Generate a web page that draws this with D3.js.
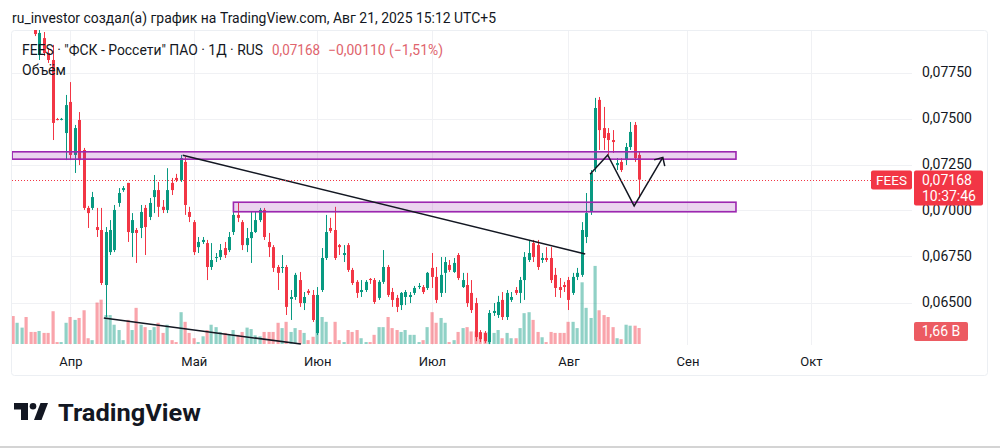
<!DOCTYPE html>
<html>
<head>
<meta charset="utf-8">
<script src="https://cdn.jsdelivr.net/npm/d3@7"></script>
<style>
  body { margin: 0; background: #fff; }
  svg { display: block; font-family: Roboto, "Noto Sans", sans-serif; }
</style>
</head>
<body>
<svg id="chart" width="1000" height="448"></svg>
<script>
// daily bars, FEES, late March .. 21 Aug 2025 (bar index = position)
const openVals = [0.0828,0.0822,0.0827,0.0832,0.0817,0.0807,0.07845,0.07937,0.07856,0.07818,
  0.07497,0.07495,0.07421,0.0759,0.07302,0.07492,0.07329,0.07014,0.07014,0.0691,
  0.06894,0.06595,0.06774,0.06785,0.07041,0.07111,0.0715,0.06878,0.06894,0.06905,
  0.07014,0.06965,0.07073,0.07111,0.0702,0.07003,0.0715,0.07177,0.07166,0.07264,
  0.06992,0.06937,0.06801,0.06829,0.06823,0.06693,0.06742,0.06747,0.06796,0.06785,
  0.06883,0.06976,0.06937,0.06812,0.0685,0.06883,0.06948,0.07003,0.06829,0.06801,
  0.06693,0.06688,0.06693,0.06519,0.0653,0.06622,0.06497,0.06563,0.06541,0.06334,
  0.06568,0.06742,0.06905,0.06894,0.06812,0.06758,0.06812,0.06677,0.06612,0.06557,
  0.06568,0.06628,0.06622,0.06525,0.06612,0.06693,0.06557,0.06525,0.06486,0.0653,
  0.0653,0.06552,0.06584,0.06584,0.06579,0.06688,0.06639,0.06552,0.06661,0.06704,
  0.06666,0.06758,0.06584,0.06595,0.06552,0.06497,0.06339,0.06334,0.06285,0.06443,
  0.06432,0.06514,0.06421,0.06514,0.06568,0.06552,0.06622,0.06731,0.06823,0.06812,
  0.06731,0.06742,0.06742,0.0665,0.06584,0.06595,0.06622,0.06552,0.06639,0.0665,
  0.06856,0.06992,0.0723,0.07601,0.07448,0.07421,0.07383,0.07247,0.07264,0.07274,
  0.07345,0.07465,0.07302];
const highVals = [0.0833,0.0830,0.0834,0.0834,0.0819,0.0809,0.0799,0.0797,0.07883,0.0790,
  0.07503,0.07503,0.07628,0.07698,0.07465,0.07535,0.0734,0.07025,0.07101,0.07014,
  0.07014,0.0691,0.06948,0.0703,0.07122,0.07133,0.0715,0.06986,0.06905,0.0703,
  0.0703,0.07068,0.07193,0.07155,0.07057,0.0723,0.07177,0.07199,0.07302,0.07291,
  0.0702,0.06948,0.06856,0.06856,0.0684,0.06823,0.06769,0.06818,0.06829,0.06883,
  0.07041,0.07041,0.06948,0.06905,0.06992,0.06992,0.07014,0.07014,0.06878,0.06812,
  0.06704,0.06758,0.06704,0.06568,0.06661,0.06666,0.06557,0.06573,0.06568,0.06584,
  0.06796,0.06976,0.0696,0.0702,0.06818,0.06812,0.06823,0.06688,0.06622,0.06622,
  0.06622,0.06633,0.06633,0.06622,0.06785,0.06704,0.06579,0.06541,0.06557,0.06568,
  0.06557,0.0659,0.06606,0.06595,0.06666,0.06769,0.06693,0.06747,0.06747,0.06731,
  0.06742,0.06769,0.06661,0.06661,0.06622,0.06525,0.0635,0.06345,0.06459,0.06497,
  0.06536,0.06557,0.06568,0.06557,0.06584,0.06639,0.06774,0.0684,0.0684,0.0684,
  0.06769,0.06801,0.06801,0.06688,0.06633,0.06612,0.06639,0.06661,0.06688,0.06937,
  0.07095,0.0722,0.07612,0.07617,0.07563,0.07448,0.07437,0.07285,0.07285,0.07367,
  0.07481,0.07481,0.07318];
const lowVals = [0.0820,0.0819,0.0824,0.0815,0.0805,0.07948,0.07818,0.0784,0.07802,0.07383,
  0.0749,0.0749,0.07274,0.07274,0.07204,0.07247,0.07003,0.06905,0.07003,0.06856,
  0.06595,0.06421,0.06758,0.06774,0.0702,0.07101,0.06829,0.06747,0.06715,0.0685,
  0.06758,0.06948,0.06986,0.06965,0.06986,0.06986,0.07084,0.07155,0.07155,0.06976,
  0.06937,0.06758,0.06769,0.06818,0.06622,0.06677,0.0672,0.06731,0.06742,0.06774,
  0.06867,0.06937,0.06785,0.06774,0.06715,0.06878,0.06937,0.0684,0.06747,0.06666,
  0.06568,0.06661,0.06432,0.06405,0.06514,0.06476,0.06459,0.06541,0.06394,0.06323,
  0.06557,0.06731,0.06878,0.06731,0.06758,0.0672,0.06666,0.06595,0.06525,0.0653,
  0.06557,0.06601,0.06492,0.06514,0.06601,0.0653,0.06476,0.06448,0.06459,0.06486,
  0.06497,0.06541,0.06573,0.06546,0.06568,0.06579,0.06497,0.0653,0.06552,0.06666,
  0.06661,0.06622,0.06579,0.06476,0.06443,0.0629,0.06285,0.0628,0.06274,0.06427,
  0.06416,0.06405,0.06405,0.06503,0.06541,0.06497,0.06514,0.0672,0.0672,0.06677,
  0.06715,0.0672,0.06606,0.0653,0.06525,0.06557,0.06459,0.06541,0.06622,0.06639,
  0.06823,0.06976,0.07209,0.07329,0.07329,0.07302,0.07313,0.0722,0.07209,0.07247,
  0.07329,0.07264,0.07068];
const closeVals = [0.0822,0.0828,0.0832,0.0817,0.0807,0.07959,0.07965,0.07856,0.07818,0.07476,
  0.07495,0.07498,0.07573,0.07302,0.07448,0.07274,0.07014,0.06986,0.07073,0.06894,
  0.06606,0.06883,0.06894,0.07003,0.07095,0.07122,0.06883,0.06948,0.06878,0.06992,
  0.0691,0.07041,0.07111,0.0702,0.07003,0.07111,0.07111,0.07166,0.07285,0.0703,
  0.06965,0.06774,0.06829,0.0684,0.06693,0.06731,0.06747,0.06785,0.06758,0.06856,
  0.06976,0.0696,0.06812,0.0685,0.06883,0.06948,0.07003,0.06856,0.06801,0.06688,
  0.06661,0.06693,0.06476,0.0653,0.0665,0.06497,0.0653,0.06552,0.06405,0.06541,
  0.06742,0.06883,0.06889,0.06742,0.06801,0.06769,0.06677,0.06606,0.06552,0.06568,
  0.06612,0.06622,0.06503,0.06612,0.06693,0.06541,0.06514,0.06476,0.06552,0.06557,
  0.06541,0.06579,0.0659,0.06557,0.06661,0.06639,0.06514,0.0665,0.0672,0.06677,
  0.06715,0.06633,0.06622,0.06497,0.06459,0.06312,0.06301,0.0629,0.06443,0.06454,
  0.06503,0.06421,0.06552,0.0653,0.06552,0.06622,0.06747,0.06769,0.06747,0.06693,
  0.06742,0.06731,0.06622,0.06579,0.06568,0.06584,0.06514,0.06639,0.06661,0.06894,
  0.06986,0.07204,0.07557,0.07437,0.07394,0.07383,0.07372,0.07258,0.0722,0.07345,
  0.07427,0.07285,0.07168];
// volume, billions of shares
const volumeVals = [2.9,2.2,1.7,2.8,1.25,1.25,1.35,1.15,1.15,3.4,
  0.2,0.2,2.2,2.8,2.5,2.7,3.5,0.6,0.4,4.3,
  4.6,3.0,3.0,2.0,1.45,0.4,2.5,1.45,3.75,2.0,
  1.75,1.45,1.75,2.2,1.15,2.0,0.4,0.2,3.3,2.3,
  1.15,0.6,0.2,0.8,1.45,2.0,1.75,1.25,1.15,0.95,
  1.45,0.95,1.25,1.7,1.55,0.9,0.8,1.25,1.25,1.25,
  2.2,1.65,2.3,1.25,1.65,1.45,1.15,0.4,0.75,2.5,
  2.8,2.3,0.2,2.3,0.4,0.2,1.45,1.25,1.45,0.6,
  0.2,0.2,0.95,1.75,1.75,2.8,1.65,1.45,1.25,1.45,
  0.95,0.95,0.2,0.4,1.75,3.3,2.2,2.7,2.2,0.2,
  0.4,1.25,1.65,1.75,1.3,1.3,1.2,1.2,1.25,1.15,
  1.45,0.6,1.15,0.6,0.6,1.65,3.2,3.3,2.5,1.25,
  0.7,0.2,1.25,1.15,1.15,1.15,2.3,2.3,1.65,6.4,
  3.75,2.7,8.1,3.5,3.0,2.8,1.75,0.6,0.5,2.0,
  1.9,1.9,1.66];

const monthLabels = ['Апр', 'Май', 'Июн', 'Июл', 'Авг', 'Сен', 'Окт'];
const monthStartBar = [13, 41, 69, 95, 126, 153, 181];
const priceTicks = [0.065, 0.0675, 0.07, 0.0725, 0.075, 0.0775];

const lastPrice = 0.07168;
const lastVolumeLabel = '1,66 B';

// drawings: [bar, price]
const zoneUpper = [[-0.2, 0.07319], [164, 0.07279]];
const zoneLower = [[50, 0.07045], [164, 0.06993]];
const trendTop = [[38.5, 0.07300], [129.8, 0.06764]];
const trendBottom = [[20.6, 0.06416], [65.3, 0.06274]];
const zigzag = [[130.9, 0.07197], [134.9, 0.07302], [140.9, 0.07025], [147.4, 0.07289]];

const svg = d3.select('#chart');
const up = '#089981', down = '#f23645';

const x = d3.scaleLinear().domain([0, 142]).range([13, 639]);
const y = d3.scaleLinear().domain([0.065, 0.0775]).range([302.5, 72.5]);
const yVol = d3.scaleLinear().domain([0, 10]).range([344, 247.6]);
const fmt = d => d3.format('.5f')(d).replace('.', ',');

svg.append('defs').append('clipPath').attr('id', 'pane')
  .append('rect').attr('x', 12).attr('y', 30).attr('width', 900).attr('height', 315);

// title
svg.append('text')
  .attr('x', 12).attr('y', 23)
  .attr('font-size', 15).attr('fill', '#131722')
  .attr('textLength', 484).attr('lengthAdjust', 'spacingAndGlyphs')
  .text('ru_investor создал(а) график на TradingView.com, Авг 21, 2025 15:12 UTC+5');

// frame
svg.append('rect')
  .attr('x', 11.5).attr('y', 30.5).attr('width', 976).attr('height', 345).attr('rx', 3)
  .attr('fill', 'none').attr('stroke', '#eceff3');

// grid
const grid = svg.append('g').attr('stroke', '#f0f1f4').attr('stroke-width', 1);
grid.selectAll('.h').data(priceTicks).enter().append('line')
  .attr('x1', 12).attr('x2', 912)
  .attr('y1', d => Math.round(y(d)) + 0.5).attr('y2', d => Math.round(y(d)) + 0.5);
grid.selectAll('.v').data(monthStartBar).enter().append('line')
  .attr('y1', 31).attr('y2', 345)
  .attr('x1', d => Math.round(x(d)) + 0.5).attr('x2', d => Math.round(x(d)) + 0.5);

const bars = d3.range(openVals.length).map(i => ({
  i: i, o: openVals[i], h: highVals[i], l: lowVals[i], c: closeVals[i], v: volumeVals[i]
}));

const pane = svg.append('g').attr('clip-path', 'url(#pane)');

// volume
pane.append('g').selectAll('rect').data(bars).enter().append('rect')
  .attr('x', d => Math.round(x(d.i)) - 1.5)
  .attr('width', 3.2)
  .attr('y', d => yVol(d.v))
  .attr('height', d => yVol(0) - yVol(d.v))
  .attr('fill', d => d.c >= d.o ? up : down)
  .attr('fill-opacity', 0.45);

// candles
const candle = pane.append('g').selectAll('g').data(bars).enter().append('g')
  .attr('fill', d => d.c >= d.o ? up : down)
  .attr('stroke', d => d.c >= d.o ? up : down);
candle.append('line')
  .attr('x1', d => Math.round(x(d.i)) + 0.5).attr('x2', d => Math.round(x(d.i)) + 0.5)
  .attr('y1', d => y(d.h)).attr('y2', d => y(d.l));
candle.append('rect')
  .attr('stroke', 'none')
  .attr('x', d => Math.round(x(d.i)) - 1)
  .attr('width', 3)
  .attr('y', d => y(Math.max(d.o, d.c)))
  .attr('height', d => Math.max(1, Math.abs(y(d.o) - y(d.c))));

// zones
[zoneUpper, zoneLower].forEach(z => {
  pane.append('rect')
    .attr('x', x(z[0][0])).attr('y', y(z[0][1]))
    .attr('width', x(z[1][0]) - x(z[0][0]))
    .attr('height', y(z[1][1]) - y(z[0][1]))
    .attr('fill', 'rgba(156, 39, 176, 0.2)')
    .attr('stroke', '#9c27b0').attr('stroke-width', 1.6);
});

// trend lines and path
const line = d3.line().x(d => x(d[0])).y(d => y(d[1]));
[trendTop, trendBottom, zigzag].forEach(pts => {
  pane.append('path').attr('d', line(pts))
    .attr('fill', 'none').attr('stroke', '#131722').attr('stroke-width', 1.5);
});
// arrow head at the end of the path
const a = zigzag[zigzag.length - 2], b = zigzag[zigzag.length - 1];
const ax = x(b[0]), ay = y(b[1]);
const ang = Math.atan2(y(a[1]) - ay, x(a[0]) - ax);
pane.append('path')
  .attr('d', `M${ax + 9 * Math.cos(ang - 0.75)},${ay + 9 * Math.sin(ang - 0.75)}L${ax},${ay}L${ax + 9 * Math.cos(ang + 0.75)},${ay + 9 * Math.sin(ang + 0.75)}`)
  .attr('fill', 'none').attr('stroke', '#131722').attr('stroke-width', 1.5);

// last price line
svg.append('line')
  .attr('x1', 12).attr('x2', 871)
  .attr('y1', Math.round(y(lastPrice)) + 0.5).attr('y2', Math.round(y(lastPrice)) + 0.5)
  .attr('stroke', down).attr('stroke-width', 1).attr('stroke-dasharray', '1 2');

// legend
const legend = svg.append('g').attr('font-size', 14);
legend.append('text').attr('x', 22).attr('y', 55).attr('fill', '#131722')
  .attr('textLength', 241).attr('lengthAdjust', 'spacingAndGlyphs')
  .text('FEES · "ФСК - Россети" ПАО · 1Д · RUS');
legend.append('text').attr('x', 272).attr('y', 55).attr('fill', '#e0646d')
  .attr('textLength', 48).attr('lengthAdjust', 'spacingAndGlyphs')
  .text(fmt(lastPrice));
legend.append('text').attr('x', 328).attr('y', 55).attr('fill', '#e0646d')
  .attr('textLength', 115).attr('lengthAdjust', 'spacingAndGlyphs')
  .text('−0,00110 (−1,51%)');
legend.append('text').attr('x', 22).attr('y', 75).attr('fill', '#131722').text('Объём');

// price axis
const yAxis = svg.append('g').attr('transform', 'translate(912,0)')
  .call(d3.axisRight(y).tickValues(priceTicks).tickFormat(fmt).tickSize(0).tickPadding(10));
yAxis.select('.domain').remove();
yAxis.selectAll('text').attr('font-size', 14).attr('fill', '#131722')
  .attr('font-family', 'Roboto, sans-serif');

// time axis
const xAxis = svg.append('g').attr('transform', 'translate(0,352)')
  .call(d3.axisBottom(x).tickValues(monthStartBar).tickFormat((d, i) => monthLabels[i]).tickSize(0).tickPadding(5));
xAxis.select('.domain').remove();
xAxis.selectAll('text').attr('font-size', 13).attr('fill', '#131722')
  .attr('font-family', 'Roboto, sans-serif');

// tags on the price scale
const py = y(lastPrice);
svg.append('rect').attr('x', 871).attr('y', py - 9).attr('width', 41).attr('height', 19).attr('rx', 2).attr('fill', down);
svg.append('text').attr('x', 891.5).attr('y', py + 5).attr('text-anchor', 'middle')
  .attr('font-size', 13.5).attr('fill', '#fff').text('FEES');
svg.append('rect').attr('x', 914).attr('y', py - 9).attr('width', 69).attr('height', 35).attr('rx', 2).attr('fill', down);
svg.append('text').attr('x', 922).attr('y', py + 5).attr('font-size', 14).attr('fill', '#fff').text(fmt(lastPrice));
svg.append('text').attr('x', 922).attr('y', py + 21).attr('font-size', 14).attr('fill', '#fff').text('10:37:46');

const vy = yVol(volumeVals[volumeVals.length - 1]);
svg.append('rect').attr('x', 914).attr('y', vy - 6).attr('width', 54).attr('height', 19).attr('rx', 2).attr('fill', '#ec5b62');
svg.append('text').attr('x', 941).attr('y', vy + 8).attr('text-anchor', 'middle')
  .attr('font-size', 14).attr('fill', '#fff').text(lastVolumeLabel);

// TradingView logo
const logo = svg.append('g').attr('fill', '#131722');
logo.append('path').attr('d', 'M14 403H28V420H21V409.5H14Z');
logo.append('circle').attr('cx', 33).attr('cy', 406.3).attr('r', 3.3);
logo.append('path').attr('d', 'M34 420H41.5L48 403H40.5Z');
logo.append('text').attr('x', 58).attr('y', 421)
  .attr('font-size', 23).attr('font-weight', 700)
  .attr('textLength', 143).attr('lengthAdjust', 'spacingAndGlyphs')
  .text('TradingView');

svg.append('rect').attr('x', 0).attr('y', 446).attr('width', 1000).attr('height', 2).attr('fill', '#d4d4d4');
</script>
</body>
</html>
